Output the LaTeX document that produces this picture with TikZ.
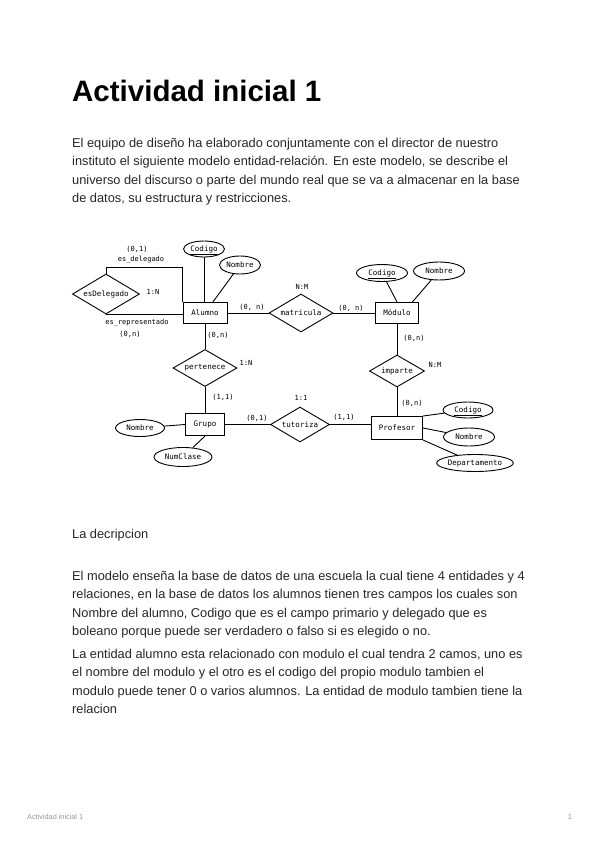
\documentclass[tikz,border=0pt]{standalone}
\usepackage{fontspec}
\setmainfont{Liberation Sans}
\newfontfamily\diagfont{DejaVu Sans Mono}
\usetikzlibrary{shapes.geometric,calc}
\definecolor{InkDark}{RGB}{38,38,38}
\definecolor{FootGray}{RGB}{150,150,150}

\begin{document}
\begin{tikzpicture}[x=1pt,y=-1pt,
  entity/.style={draw,line width=1pt,inner sep=0pt,font=\diagfont\fontsize{7.5}{8}\selectfont},
  attrib/.style={draw,ellipse,line width=0.9pt,inner sep=0pt,text height=5.5pt,text depth=1.5pt,font=\diagfont\fontsize{7.5}{8}\selectfont},
  relat/.style={draw,diamond,line width=0.9pt,inner sep=0pt,aspect=1.7,font=\diagfont\fontsize{7.5}{8}\selectfont},
  conn/.style={line width=0.9pt},
  card/.style={inner sep=0pt,font=\diagfont\fontsize{7}{7}\selectfont},
  para/.style={anchor=base west,align=left,inner sep=0pt,text=InkDark,font=\fontsize{12.8}{18.5}\selectfont}]
  \useasboundingbox (0,0) rectangle (600,848);

  \node[anchor=base west,inner sep=0pt,text=black,font=\bfseries\fontsize{29.5}{32}\selectfont] (title) at (72,102) {Actividad inicial 1};
  \node[para] (intro) at (72,202.5) {El equipo de diseño ha elaborado conjuntamente con el director de nuestro\\
    instituto el siguiente modelo entidad-relación. En este modelo, se describe el\\
    universo del discurso o parte del mundo real que se va a almacenar en la base\\
    de datos, su estructura y restricciones.};

  \node[entity,minimum width=44,minimum height=21] (alu) at (205,313) {Alumno};
  \node[entity,minimum width=43,minimum height=21] (mod) at (397,313) {Módulo};
  \node[entity,minimum width=39,minimum height=22] (gru) at (205,424.5) {Grupo};
  \node[entity,minimum width=51,minimum height=23] (pro) at (397,428) {Profesor};

  \node[relat,minimum width=67,minimum height=40] (del) at (106,294) {esDelegado};
  \node[relat,minimum width=64,minimum height=38] (mat) at (301,313) {matricula};
  \node[relat,minimum width=64,minimum height=37] (per) at (205,368) {pertenece};
  \node[relat,minimum width=55,minimum height=32] (imp) at (397,371) {imparte};
  \node[relat,minimum width=59,minimum height=35] (tut) at (300,424.5) {tutoriza};

  \node[attrib,minimum width=41,minimum height=16] (acod) at (204,249) {\underline{Codigo}};
  \node[attrib,minimum width=41,minimum height=18] (anom) at (240,265) {Nombre};
  \node[attrib,minimum width=51,minimum height=17] (mcod) at (382,273) {\underline{Codigo}};
  \node[attrib,minimum width=51,minimum height=18] (mnom) at (439,271) {Nombre};
  \node[attrib,minimum width=50,minimum height=16] (pcod) at (468,410) {\underline{Codigo}};
  \node[attrib,minimum width=51,minimum height=18] (pnom) at (469,437) {Nombre};
  \node[attrib,minimum width=76,minimum height=17] (pdep) at (475,463) {Departamento};
  \node[attrib,minimum width=49,minimum height=17] (gnom) at (140,428) {Nombre};
  \node[attrib,minimum width=58,minimum height=19] (gnum) at (183,457) {NumClase};

  \draw[conn] (acod.south) -- (acod.south |- alu.north);
  \draw[conn] (anom) -- ($(alu.north)!0.35!(alu.north east)$);
  \draw[conn] (mcod) -- (mod.north);
  \draw[conn] (mnom) -- ($(mod.north)!0.7!(mod.north east)$);
  \draw[conn] (pro.north east) -- (pcod);
  \draw[conn] (pro.east) -- (pnom);
  \draw[conn] (pro.south east) -- (pdep);
  \draw[conn] (gru.west) -- (gnom);
  \draw[conn] (gru.south) -- (gnum);

  \draw[conn] (alu) -- (mat);
  \draw[conn] (mat) -- (mod);
  \draw[conn] (alu) -- (per);
  \draw[conn] (per) -- (gru);
  \draw[conn] (mod) -- (imp);
  \draw[conn] (imp) -- (pro);
  \draw[conn] (gru) -- (tut);
  \draw[conn] (tut.east) -- (tut.east -| pro.west);
  \draw[conn] (del.north) -- ++(0,-6) -| (alu.north west);
  \draw[conn] (del.south) -- (del.south -| alu.west);

  \node[card] (c1) at (137,249) {(0,1)};
  \node[card] (c2) at (141,260) {es\_delegado};
  \node[card] (c3) at (153,292) {1:N};
  \node[card] (c4) at (137,323) {es\_representado};
  \node[card] (c5) at (130,334) {(0,n)};
  \node[card] (c6) at (218,335) {(0,n)};
  \node[card] (c7) at (252,307) {(0, n)};
  \node[card] (c8) at (302,287) {N:M};
  \node[card] (c9) at (351,308) {(0, n)};
  \node[card] (c10) at (414,338) {(0,n)};
  \node[card] (c11) at (435,365) {N:M};
  \node[card] (c12) at (412,403) {(0,n)};
  \node[card] (c13) at (246,363) {1:N};
  \node[card] (c14) at (223,397) {(1,1)};
  \node[card] (c15) at (257,418) {(0,1)};
  \node[card] (c16) at (301,398) {1:1};
  \node[card] (c17) at (344,417) {(1,1)};

  \node[para] (sub) at (72,538) {La decripcion};
  \node[para] (desc1) at (72,635.5) {El modelo enseña la base de datos de una escuela la cual tiene 4 entidades y 4\\
    relaciones, en la base de datos los alumnos tienen tres campos los cuales son\\
    Nombre del alumno, Codigo que es el campo primario y delegado que es\\
    boleano porque puede ser verdadero o falso si es elegido o no.};
  \node[para] (desc2) at (72,713.5) {La entidad alumno esta relacionado con modulo el cual tendra 2 camos, uno es\\
    el nombre del modulo y el otro es el codigo del propio modulo tambien el\\
    modulo puede tener 0 o varios alumnos. La entidad de modulo tambien tiene la\\
    relacion};

  \node[anchor=base west,inner sep=0pt,text=FootGray,font=\fontsize{7.3}{8}\selectfont] (foot) at (27,819) {Actividad inicial 1};
  \node[anchor=base,inner sep=0pt,text=FootGray,font=\fontsize{7.3}{8}\selectfont] (page) at (570,819) {1};
\end{tikzpicture}
\end{document}
